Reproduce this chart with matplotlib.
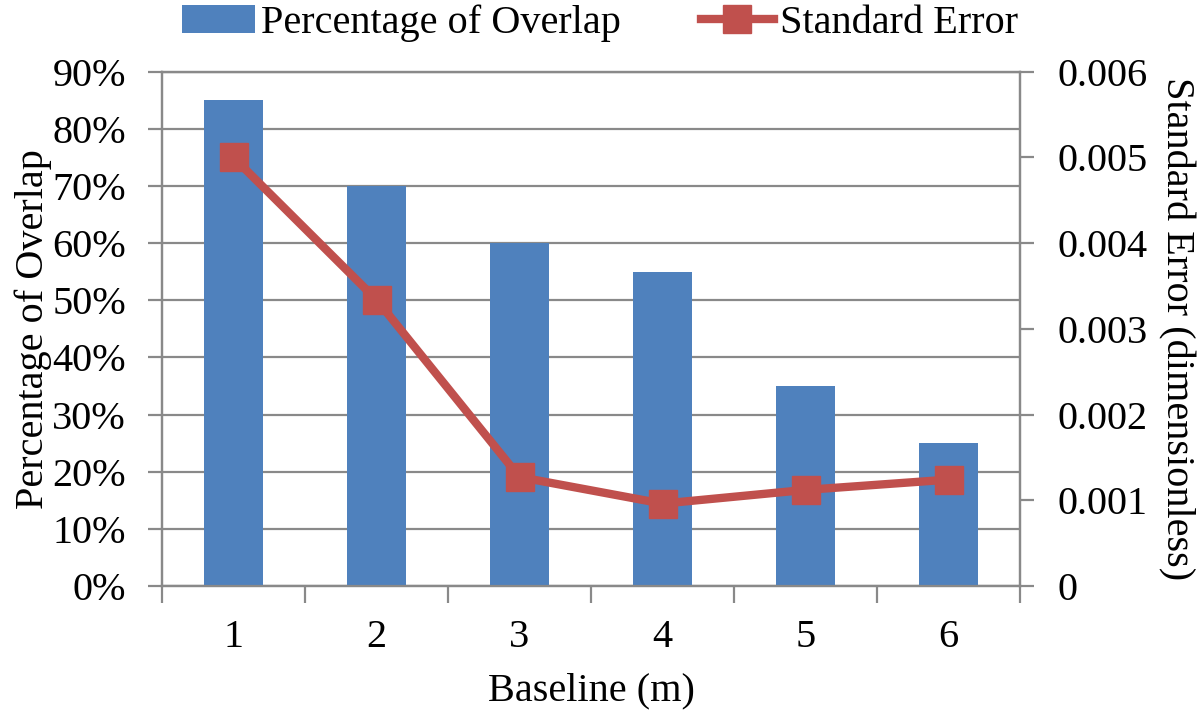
import matplotlib
matplotlib.use("Agg")
import matplotlib.pyplot as plt
from matplotlib.ticker import FuncFormatter, FixedLocator

baseline = [1, 2, 3, 4, 5, 6]
overlap = [85, 70, 60, 55, 35, 25]
std_err = [0.0050, 0.00334, 0.00127, 0.00096, 0.00112, 0.00124]

plt.rcParams['font.family'] = ['Liberation Serif', 'DejaVu Serif']
plt.rcParams['font.size'] = 29

grey = '#898989'
fig = plt.figure(figsize=(12, 7.11), dpi=100)
ax = fig.add_axes([0.135, 0.176, 0.715, 0.723])

bars = ax.bar(baseline, overlap, width=0.41, color='#4F81BD', zorder=3,
              label='Percentage of Overlap')
ax.set_xlim(0.5, 6.5)
ax.set_ylim(0, 90)
ax.set_yticks(range(0, 91, 10))
ax.yaxis.set_major_formatter(FuncFormatter(lambda v, p: f'{v:.0f}%'))
ax.grid(axis='y', color=grey, linewidth=1.6, zorder=0)
ax.set_axisbelow(True)
ax.set_xticks(baseline)
ax.xaxis.set_minor_locator(FixedLocator([b - 0.5 for b in baseline] + [6.5]))
ax.tick_params(axis='x', which='major', length=0, pad=24)
ax.tick_params(axis='x', which='minor', length=12, width=1.6, color=grey)
ax.tick_params(axis='y', length=10, width=1.6, color=grey, pad=16)
ax.set_xlabel('Baseline (m)', labelpad=12)
ax.set_ylabel('Percentage of Overlap', labelpad=0)
for s in ax.spines.values():
    s.set_color(grey)
    s.set_linewidth(1.6)

ax2 = ax.twinx()
line, = ax2.plot(baseline, std_err, color='#C0504D', linewidth=6, marker='s',
                 markersize=20, zorder=4, label='Standard Error')
ax2.set_ylim(0, 0.006)
ax2.set_yticks([0, 0.001, 0.002, 0.003, 0.004, 0.005, 0.006])
ax2.yaxis.set_major_formatter(FuncFormatter(lambda v, p: '0' if v == 0 else f'{v:.3f}'))
ax2.tick_params(axis='y', length=10, width=1.6, color=grey, pad=17)
ax2.set_ylabel('Standard Error (dimensionless)', rotation=-90, labelpad=34)
for s in ax2.spines.values():
    s.set_color(grey)
    s.set_linewidth(1.6)

fig.legend([bars, line], ['Percentage of Overlap', 'Standard Error'],
           loc='upper center', bbox_to_anchor=(0.5, 1.045), ncol=2, frameon=False,
           handlelength=1.8, columnspacing=2.0, handletextpad=0.15)

fig.savefig('out.png', dpi=100)
